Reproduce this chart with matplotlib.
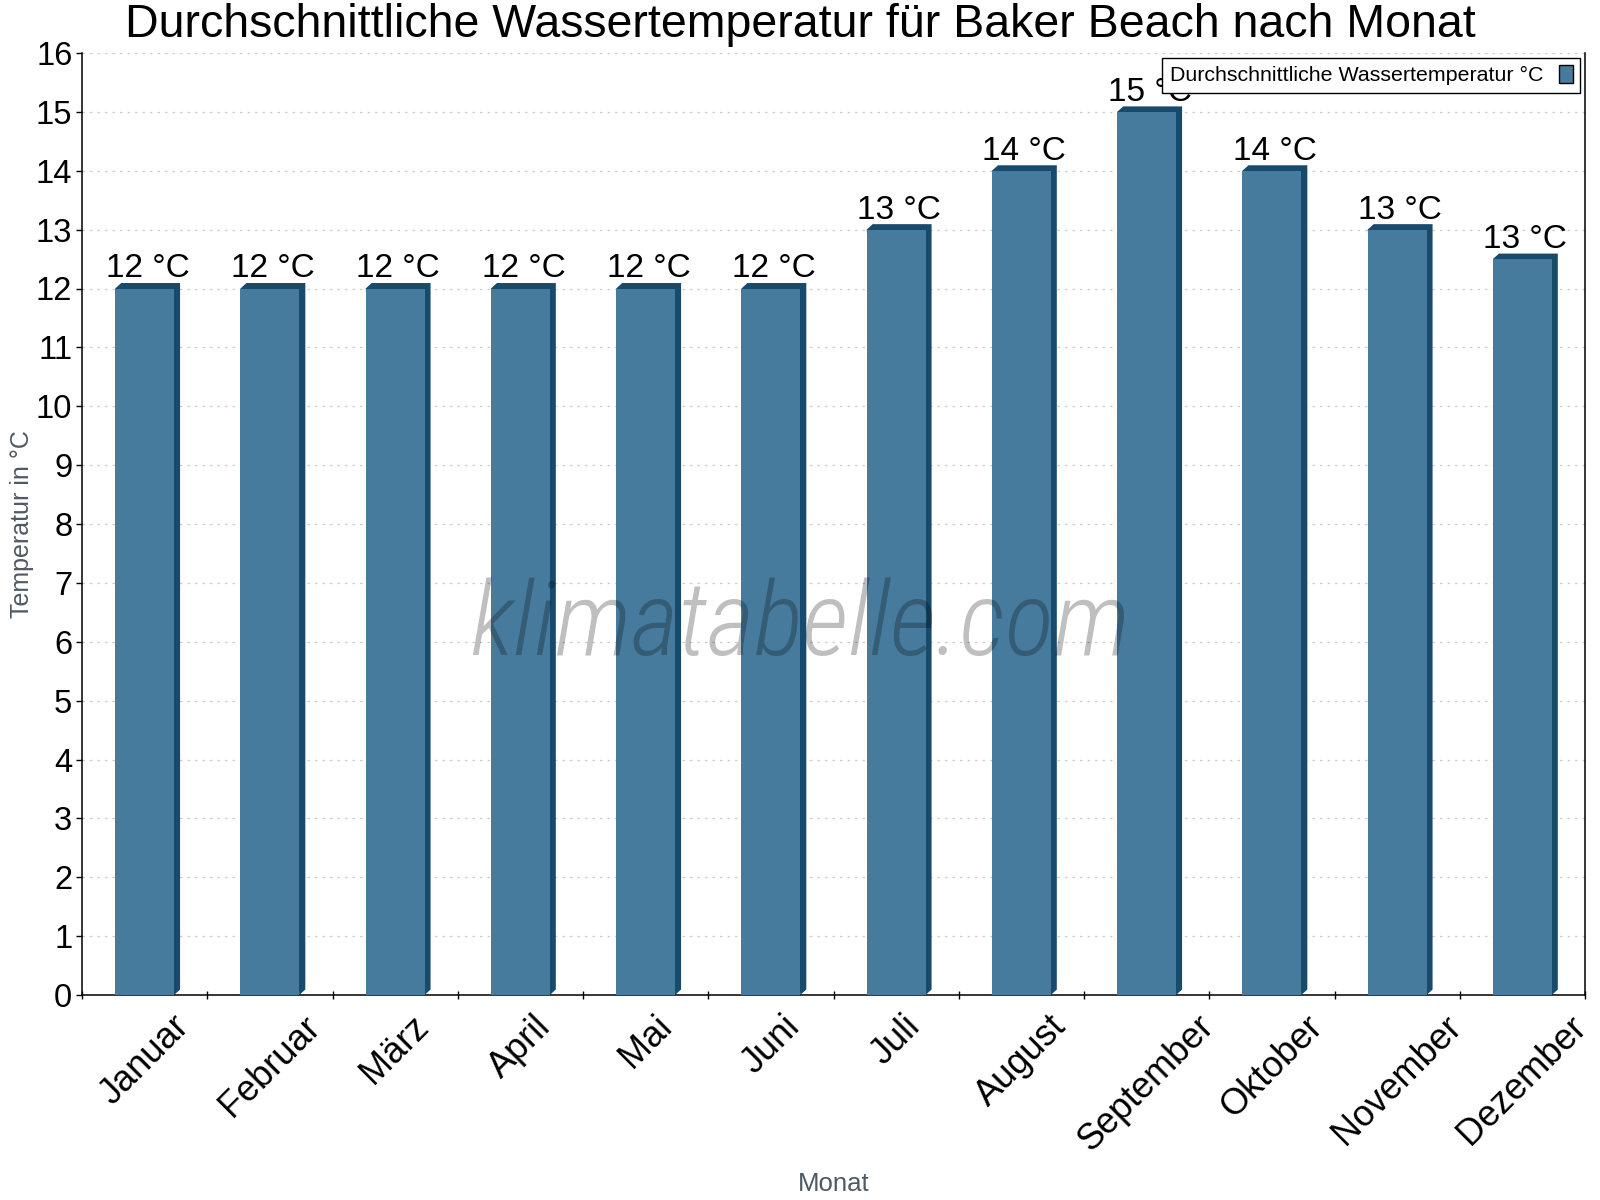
import matplotlib
matplotlib.use("Agg")
import matplotlib.pyplot as plt
from matplotlib.patches import Patch

plt.rcParams['font.family'] = ['Liberation Sans', 'DejaVu Sans']

months = ['Januar', 'Februar', 'März', 'April', 'Mai', 'Juni', 'Juli',
          'August', 'September', 'Oktober', 'November', 'Dezember']
water_temp = [12, 12, 12, 12, 12, 12, 13, 14, 15, 14, 13, 12.5]
bar_labels = ['12 °C', '12 °C', '12 °C', '12 °C', '12 °C', '12 °C', '13 °C',
              '14 °C', '15 °C', '14 °C', '13 °C', '13 °C']
yticks = list(range(0, 17))

front = '#467b9d'
side = '#184a6c'
W, DX, DY = 0.47, 0.048, 0.093

fig = plt.figure(figsize=(16, 12), dpi=100)
ax = fig.add_axes([82/1600, 1-995/1200, 1503/1600, 942/1200])
xs = list(range(len(months)))

# dark "3d" side + top, then the front face
for x, v in zip(xs, water_temp):
    x0, x1 = x - W/2, x + W/2
    ax.fill([x0, x0+DX, x1+DX, x1+DX, x1], [v, v+DY, v+DY, DY, 0],
            color=side, lw=0, zorder=2)
ax.bar(xs, water_temp, width=W, color=front, lw=0, zorder=3)

for x, v, t in zip(xs, water_temp, bar_labels):
    ax.annotate(t, (x + DX/2, v + DY), xytext=(0, 4), textcoords='offset points',
                ha='center', va='baseline', fontsize=24, zorder=5)

ax.set_xlim(-0.5, len(months) - 0.5)
ax.set_ylim(0, 16)
ax.set_yticks(yticks)
ax.set_xticks([i - 0.5 for i in range(len(months) + 1)])
ax.set_xticklabels([])
ax.set_xticks(xs, minor=True)
ax.set_xticklabels(months, minor=True, rotation=45, ha='center', fontsize=26)
ax.tick_params(axis='x', which='major', direction='inout', length=6, width=1)
ax.tick_params(axis='x', which='minor', length=0, pad=10)
ax.tick_params(axis='y', direction='out', length=4, width=1, labelsize=23.5, pad=3)

ax.grid(axis='y', color='#cccccc', linestyle=(0, (2, 4)), linewidth=0.9)
ax.set_axisbelow(True)
ax.spines['top'].set_visible(False)
for s in ['left', 'bottom', 'right']:
    ax.spines[s].set_linewidth(1.1)

ax.set_ylabel('Temperatur in °C', fontsize=18, color='#4e5964')
ax.yaxis.set_label_coords((22-82)/1503, 0.5)
ax.yaxis.label.set_va('center')
ax.set_xlabel('Monat', fontsize=18.5, color='#4e5964')
ax.xaxis.set_label_coords(0.5, (995-1184)/942)
ax.xaxis.label.set_va('center')

fig.text(0.5, 1-37/1200, 'Durchschnittliche Wassertemperatur für Baker Beach nach Monat',
         ha='center', va='baseline', fontsize=33.5)

fig.text(0.5, 1-655/1200, 'klimatabelle.com', ha='center', va='baseline',
         fontsize=74, style='italic', fontweight=200,
         family=['Roboto Condensed', 'Roboto', 'DejaVu Sans'],
         color='black', alpha=0.25, zorder=10)

handle = Patch(facecolor=front, edgecolor='black', linewidth=1)
leg = ax.legend([handle], ['Durchschnittliche Wassertemperatur °C'], loc='upper right',
                bbox_to_anchor=((1580-82)/1503, (995-58)/942), borderaxespad=0,
                fontsize=15.4, markerfirst=False, fancybox=False, framealpha=1,
                edgecolor='black', handlelength=0.63, handleheight=0.85,
                handletextpad=0.75, borderpad=0.35)
leg.get_frame().set_linewidth(1)

fig.savefig('out.png', dpi=100)
